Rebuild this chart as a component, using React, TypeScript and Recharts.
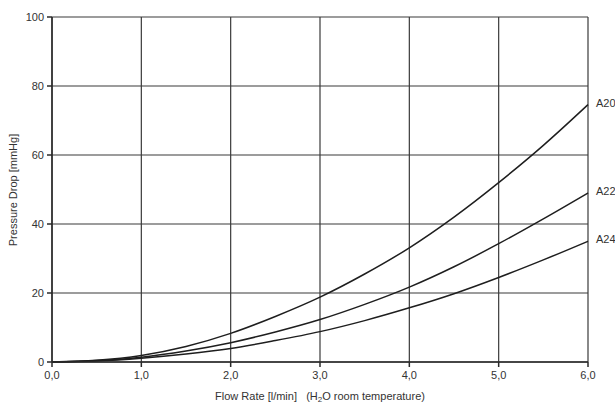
import { CartesianGrid, Label, Line, LineChart, XAxis, YAxis } from 'recharts';

const flow = [0, 0.5, 1, 1.5, 2, 2.5, 3, 3.5, 4, 4.5, 5, 5.5, 6];
const a20 = [0, 0.5, 1.9, 4.5, 8.3, 13.2, 18.8, 25.5, 33.1, 42, 52, 62.8, 74.6];
const a22 = [0, 0.4, 1.4, 3.2, 5.6, 8.7, 12.3, 16.7, 21.7, 27.6, 34.3, 41.5, 49];
const a24 = [0, 0.3, 1.1, 2.3, 3.9, 6.2, 8.8, 12, 15.7, 19.8, 24.5, 29.6, 35];

const xTicks = [0, 1, 2, 3, 4, 5, 6];
const yTicks = [0, 20, 40, 60, 80, 100];

const series = [
  { key: 'a20', name: 'A20' },
  { key: 'a22', name: 'A22' },
  { key: 'a24', name: 'A24' },
];

const rows = flow.map((f, i) => ({ flow: f, a20: a20[i], a22: a22[i], a24: a24[i] }));

const font = 'Liberation Sans, Arial, sans-serif';
const textColor = '#333';

function endLabel(name: string) {
  return (props: any) => {
    if (props.index !== rows.length - 1) return null;
    return (
      <text x={props.x + 8} y={props.y} dy={-1} fontSize={11} fontFamily={font} fill={textColor} dominantBaseline="middle">
        {name}
      </text>
    );
  };
}

export default function App() {
  return (
    <div style={{ position: 'absolute', left: 0, top: 0, width: 615, height: 403, background: '#fff' }}>
      <LineChart width={615} height={403} data={rows} margin={{ top: 17, right: 27, bottom: 21, left: 12 }}>
        <CartesianGrid stroke="#3a3a3a" strokeWidth={1.2} />
        <XAxis
          dataKey="flow"
          type="number"
          domain={[0, 6]}
          ticks={xTicks}
          tickFormatter={(v) => Number(v).toFixed(1).replace('.', ',')}
          tick={{ fontSize: 11, fontFamily: font, fill: textColor }}
          tickSize={5}
          tickMargin={4}
          stroke="#2a2a2a"
          strokeWidth={1.5}
          height={20}
        >
          <Label
            content={() => (
              <text x={320} y={397} textAnchor="middle" fontSize={11} fontFamily={font} fill={textColor} dominantBaseline="middle">
                Flow Rate [l/min]{'\u00a0\u00a0\u00a0'}(H
                <tspan fontSize={8} dy={3}>2</tspan>
                <tspan dy={-3}>O room temperature)</tspan>
              </text>
            )}
          />
        </XAxis>
        <YAxis
          type="number"
          domain={[0, 100]}
          ticks={yTicks}
          tick={{ fontSize: 11, fontFamily: font, fill: textColor }}
          tickSize={5}
          tickMargin={3}
          stroke="#2a2a2a"
          strokeWidth={1.5}
          width={40}
        >
          <Label
            content={() => (
              <text
                x={14}
                y={190}
                transform="rotate(-90 14 190)"
                textAnchor="middle"
                fontSize={11}
                fontFamily={font}
                fill={textColor}
                dominantBaseline="middle"
              >
                Pressure Drop [mmHg]
              </text>
            )}
          />
        </YAxis>
        {series.map((s) => (
          <Line
            key={s.key}
            type="monotone"
            dataKey={s.key}
            stroke="#1e1e1e"
            strokeWidth={1.5}
            dot={false}
            isAnimationActive={false}
            label={endLabel(s.name)}
          />
        ))}
      </LineChart>
    </div>
  );
}
